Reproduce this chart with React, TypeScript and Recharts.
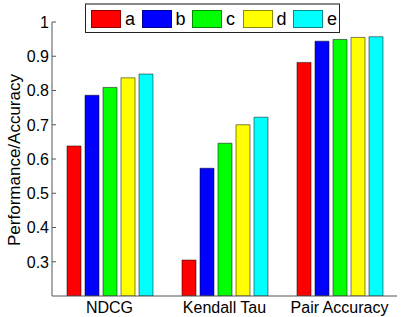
import { BarChart, Bar, XAxis, YAxis, Legend } from "recharts";

const CATEGORIES = ["NDCG", "Kendall Tau", "Pair Accuracy"];
const SERIES = ["a", "b", "c", "d", "e"];
const COLORS = ["#ff0000", "#0000ff", "#00ff00", "#ffff00", "#00ffff"];
const A = [0.638, 0.305, 0.882];
const B = [0.786, 0.573, 0.944];
const C = [0.809, 0.646, 0.949];
const D = [0.837, 0.7, 0.955];
const E = [0.848, 0.722, 0.957];
const Y_TICKS = [0.3, 0.4, 0.5, 0.6, 0.7, 0.8, 0.9, 1];

const VALUES = [A, B, C, D, E];
const data = CATEGORIES.map((name, i) => {
  const row: Record<string, string | number> = { name };
  SERIES.forEach((s, j) => (row[s] = VALUES[j][i]));
  return row;
});

const FONT = "'Liberation Sans', Arial, Helvetica, sans-serif";
const AXIS = "#555";

function YTick(props: any) {
  const { x, y, payload } = props;
  return (
    <g>
      <line x1={x + 3} x2={x + 7} y1={y} y2={y} stroke={AXIS} strokeWidth={1} />
      <text x={x} y={y} dy="0.36em" textAnchor="end" fontSize={16} fill="#000" fontFamily={FONT}>
        {payload.value}
      </text>
    </g>
  );
}

function LegendBox() {
  return (
    <div
      style={{
        boxSizing: "border-box",
        width: 255,
        height: 30,
        border: "1px solid #222",
        borderTop: "2px solid #888",
        background: "#fff",
        display: "flex",
        alignItems: "center",
        paddingLeft: 5,
        fontFamily: FONT,
        fontSize: 18,
      }}
    >
      {SERIES.map((s, i) => (
        <div key={s} style={{ display: "flex", alignItems: "center", width: i < SERIES.length - 1 ? 50.5 : "auto" }}>
          <div
            style={{
              width: 30,
              height: 18,
              boxSizing: "border-box",
              background: COLORS[i],
              border: "1px solid rgba(0,0,0,0.45)",
            }}
          />
          <span style={{ marginLeft: 4, lineHeight: "18px" }}>{s}</span>
        </div>
      ))}
    </div>
  );
}

export default function App() {
  return (
    <div style={{ position: "absolute", left: 0, top: 0, width: 405, height: 317, background: "#fff" }}>
      <BarChart
        width={405}
        height={317}
        data={data}
        margin={{ top: 22, right: 8, left: 0, bottom: 0 }}
        barSize={14}
        barGap={4}
      >
        <XAxis
          dataKey="name"
          height={21}
          tickLine={false}
          tickSize={0}
          tickMargin={6}
          axisLine={{ stroke: AXIS }}
          tick={{ fontSize: 16, fill: "#000", fontFamily: FONT }}
          interval={0}
        />
        <YAxis
          width={52}
          domain={[0.2, 1]}
          ticks={Y_TICKS}
          allowDataOverflow
          tickLine={false}
          tickSize={0}
          tickMargin={3}
          axisLine={{ stroke: AXIS }}
          tick={<YTick />}
          label={{
            content: () => (
              <text
                x={19.5}
                y={160}
                transform="rotate(-90 19.5 160)"
                textAnchor="middle"
                fontSize={17}
                fill="#000"
                fontFamily={FONT}
              >
                Performance/Accuracy
              </text>
            ),
          }}
        />
        <Legend
          layout="horizontal"
          verticalAlign="middle"
          align="center"
          content={() => <LegendBox />}
          wrapperStyle={{ top: 3, left: 85, width: "auto", height: "auto" }}
        />
        {SERIES.map((s, i) => (
          <Bar
            key={s}
            dataKey={s}
            fill={COLORS[i]}
            stroke="rgba(0,0,0,0.5)"
            strokeWidth={1}
            isAnimationActive={false}
          />
        ))}
      </BarChart>
    </div>
  );
}
